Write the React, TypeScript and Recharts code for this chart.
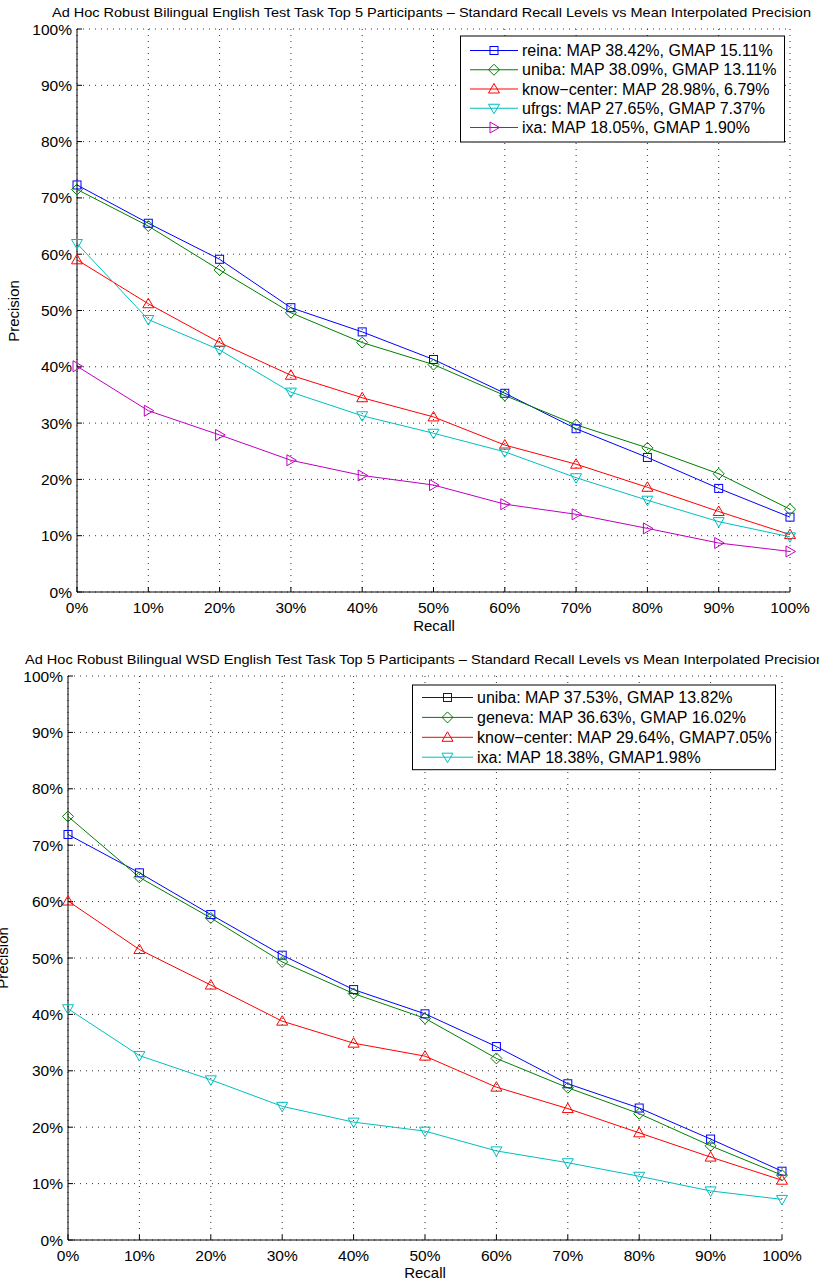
import { LineChart, Line, XAxis, YAxis, CartesianGrid } from 'recharts';

const recallLevels = [0, 10, 20, 30, 40, 50, 60, 70, 80, 90, 100];
const precisionTicks = [0, 10, 20, 30, 40, 50, 60, 70, 80, 90, 100];

// English task
const reina = [72.3, 65.5, 59.1, 50.5, 46.2, 41.3, 35.3, 29.0, 23.9, 18.4, 13.3];
const unibaEn = [71.5, 65.0, 57.2, 49.6, 44.3, 40.4, 34.9, 29.7, 25.6, 21.0, 14.7];
const knowCenterEn = [59.0, 51.2, 44.3, 38.5, 34.5, 31.1, 26.1, 22.7, 18.6, 14.3, 10.2];
const ufrgs = [61.9, 48.4, 43.0, 35.5, 31.3, 28.2, 24.9, 20.3, 16.3, 12.5, 9.8];
const ixaEn = [40.1, 32.2, 27.9, 23.4, 20.7, 19.0, 15.6, 13.8, 11.3, 8.7, 7.2];

// WSD English task
const unibaWsd = [71.9, 65.1, 57.7, 50.5, 44.4, 40.1, 34.3, 27.7, 23.4, 17.9, 12.2];
const geneva = [75.1, 64.3, 57.1, 49.3, 43.7, 39.3, 32.2, 27.0, 22.4, 16.7, 11.5];
const knowCenterWsd = [60.1, 51.5, 45.2, 38.8, 34.9, 32.6, 27.1, 23.3, 19.0, 14.7, 10.6];
const ixaWsd = [41.0, 32.7, 28.4, 23.7, 20.9, 19.3, 15.8, 13.7, 11.3, 8.7, 7.2];

type MarkerKind = 'square' | 'diamond' | 'up' | 'down' | 'right';

interface Series {
  label: string;
  color: string;
  marker: MarkerKind;
  values: number[];
}

const englishSeries: Series[] = [
  { label: 'reina: MAP 38.42%, GMAP 15.11%', color: '#0000ff', marker: 'square', values: reina },
  { label: 'uniba: MAP 38.09%, GMAP 13.11%', color: '#008000', marker: 'diamond', values: unibaEn },
  { label: 'know\u2212center: MAP 28.98%, 6.79%', color: '#ff0000', marker: 'up', values: knowCenterEn },
  { label: 'ufrgs: MAP 27.65%, GMAP 7.37%', color: '#00bfbf', marker: 'down', values: ufrgs },
  { label: 'ixa: MAP 18.05%, GMAP 1.90%', color: '#bf00bf', marker: 'right', values: ixaEn },
];

const wsdSeries: Series[] = [
  { label: 'uniba: MAP 37.53%, GMAP 13.82%', color: '#0000ff', marker: 'square', values: unibaWsd },
  { label: 'geneva: MAP 36.63%, GMAP 16.02%', color: '#008000', marker: 'diamond', values: geneva },
  { label: 'know\u2212center: MAP 29.64%, GMAP7.05%', color: '#ff0000', marker: 'up', values: knowCenterWsd },
  { label: 'ixa: MAP 18.38%, GMAP1.98%', color: '#00bfbf', marker: 'down', values: ixaWsd },
];

const FONT = '"Liberation Sans", Arial, Helvetica, sans-serif';

function Marker({ kind, color, x, y }: { kind: MarkerKind; color: string; x: number; y: number }) {
  const common = { fill: 'none', stroke: color, strokeWidth: 1 };
  switch (kind) {
    case 'square':
      return <rect x={x - 4} y={y - 4} width={8} height={8} {...common} />;
    case 'diamond':
      return <polygon points={`${x},${y - 5.5} ${x + 5.5},${y} ${x},${y + 5.5} ${x - 5.5},${y}`} {...common} />;
    case 'up':
      return <polygon points={`${x},${y - 5.5} ${x + 5.5},${y + 4} ${x - 5.5},${y + 4}`} {...common} />;
    case 'down':
      return <polygon points={`${x},${y + 5.5} ${x + 5.5},${y - 4} ${x - 5.5},${y - 4}`} {...common} />;
    default:
      return <polygon points={`${x + 5.5},${y} ${x - 4},${y - 5.5} ${x - 4},${y + 5.5}`} {...common} />;
  }
}

interface PanelProps {
  top: number;
  height: number;
  title: string;
  titleX: number;
  titleY: number;
  titleLen: number;
  series: Series[];
  margin: { top: number; right: number; bottom: number; left: number };
  precisionX: number;
  precisionY: number;
  recallX: number;
  recallY: number;
  legend: { left: number; top: number; width: number; rowH: number; firstY: number; lineX: number; textX: number };
}

function Panel(p: PanelProps) {
  const data = recallLevels.map((r, i) => {
    const row: Record<string, number> = { recall: r };
    p.series.forEach((s, j) => {
      row['s' + j] = s.values[i];
    });
    return row;
  });
  const lg = p.legend;
  const legendH = lg.firstY * 2 + lg.rowH * (p.series.length - 1);

  return (
    <div style={{ position: 'absolute', left: 0, top: p.top, width: 819, height: p.height }}>
      <LineChart width={819} height={p.height} data={data} margin={p.margin}>
        <CartesianGrid stroke="#333" strokeDasharray="1 5" />
        <XAxis
          dataKey="recall"
          type="number"
          domain={[0, 100]}
          ticks={recallLevels}
          interval={0}
          tickFormatter={(v) => `${v}%`}
          stroke="#000"
          tick={{ fill: '#000', fontSize: 15.5, fontFamily: FONT }}
          tickSize={-5}
          tickMargin={14.5}
          height={30}
        />
        <XAxis
          xAxisId="top"
          orientation="top"
          type="number"
          domain={[0, 100]}
          ticks={recallLevels}
          interval={0}
          stroke="#000"
          tick={false}
          tickSize={-5}
          height={0}
        />
        <YAxis
          type="number"
          domain={[0, 100]}
          ticks={precisionTicks}
          interval={0}
          tickFormatter={(v) => `${v}%`}
          stroke="#000"
          tick={{ fill: '#000', fontSize: 15.5, fontFamily: FONT }}
          tickSize={-5}
          tickMargin={10}
          width={60}
        />
        <YAxis
          yAxisId="right"
          orientation="right"
          type="number"
          domain={[0, 100]}
          ticks={precisionTicks}
          interval={0}
          stroke="#000"
          tick={false}
          tickSize={-5}
          width={0}
        />
        {p.series.map((s, j) => (
          <Line
            key={s.label}
            dataKey={'s' + j}
            stroke={s.color}
            strokeWidth={1}
            isAnimationActive={false}
            dot={(d: any) => <Marker key={d.index} kind={s.marker} color={s.color} x={d.cx} y={d.cy} />}
          />
        ))}
      </LineChart>
      <svg
        width={819}
        height={p.height}
        style={{ position: 'absolute', left: 0, top: 0, overflow: 'visible', pointerEvents: 'none' }}
      >
        <text
          x={p.titleX}
          y={p.titleY}
          fontFamily={FONT}
          fontSize={13}
          textLength={p.titleLen}
          lengthAdjust="spacingAndGlyphs"
        >
          {p.title}
        </text>
        <text
          x={p.precisionX}
          y={p.precisionY}
          fontFamily={FONT}
          fontSize={15}
          textAnchor="middle"
          transform={`rotate(-90 ${p.precisionX} ${p.precisionY})`}
        >
          Precision
        </text>
        <text x={p.recallX} y={p.recallY} fontFamily={FONT} fontSize={15} textAnchor="middle">
          Recall
        </text>
        <rect x={lg.left} y={lg.top} width={lg.width} height={legendH} fill="#fff" stroke="#000" strokeWidth={1} />
        {p.series.map((s, j) => {
          const y = lg.top + lg.firstY + j * lg.rowH;
          const mx = (lg.lineX + lg.textX - 4) / 2;
          return (
            <g key={s.label}>
              <line x1={lg.lineX} x2={lg.textX - 4} y1={y} y2={y} stroke={s.color} strokeWidth={1} />
              <Marker kind={s.marker} color={s.color} x={mx} y={y} />
              <text x={lg.textX} y={y + 5.7} fontFamily={FONT} fontSize={16}>
                {s.label}
              </text>
            </g>
          );
        })}
      </svg>
    </div>
  );
}

export default function App() {
  return (
    <div style={{ position: 'absolute', left: 0, top: 0, width: 819, height: 1283, background: '#fff' }}>
      <Panel
        top={0}
        height={640}
        title={'Ad Hoc Robust Bilingual English Test Task Top 5 Participants \u2013 Standard Recall Levels vs Mean Interpolated Precision'}
        titleX={52}
        titleY={17}
        titleLen={759}
        series={englishSeries}
        margin={{ top: 29, right: 29, bottom: 18, left: 17 }}
        precisionX={19}
        precisionY={311}
        recallX={434}
        recallY={631}
        legend={{ left: 460.5, top: 36, width: 324, rowH: 19.25, firstY: 14.5, lineX: 470, textX: 522 }}
      />
      <Panel
        top={640}
        height={643}
        title={'Ad Hoc Robust Bilingual WSD English Test Task Top 5 Participants \u2013 Standard Recall Levels vs Mean Interpolated Precision'}
        titleX={25}
        titleY={24}
        titleLen={799}
        series={wsdSeries}
        margin={{ top: 36, right: 37, bottom: 13, left: 8 }}
        precisionX={8}
        precisionY={318}
        recallX={425}
        recallY={638}
        legend={{ left: 412.5, top: 45, width: 363, rowH: 19.9, firstY: 12.5, lineX: 422, textX: 477 }}
      />
    </div>
  );
}
